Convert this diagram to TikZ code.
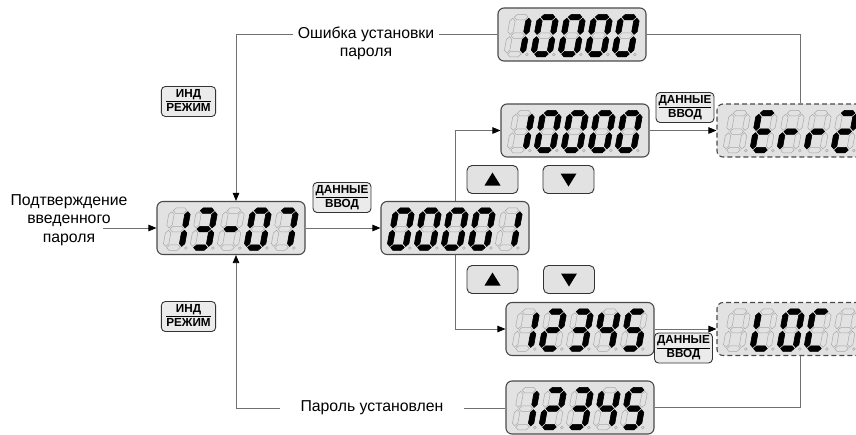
\documentclass[tikz,border=0pt]{standalone}
\usepackage{fontspec}
\setmainfont{Liberation Sans}
\usetikzlibrary{arrows.meta,calc}
\definecolor{lcdfill}{HTML}{E2E2E2}
\definecolor{lcdedge}{HTML}{4A4A4A}
\definecolor{segdim}{HTML}{A8A8A8}
\definecolor{linegray}{HTML}{707070}
\setlength{\arrayrulewidth}{1pt}

\newcommand\hseg[2]{\path[#1] (1.2,#2) -- (3.9,#2+2.7) -- (12.1,#2+2.7) -- (14.8,#2) -- (12.1,#2-2.7) -- (3.9,#2-2.7) -- cycle;}
\newcommand\vseg[3]{\path[#1] (#2,#3+1.2) -- (#2+2.7,#3+3.9) -- (#2+2.7,#3+14.6) -- (#2,#3+17.3) -- (#2-2.7,#3+14.6) -- (#2-2.7,#3+3.9) -- cycle;}
\newcommand\segXa[1]{\hseg{#1}{37}}
\newcommand\segXb[1]{\vseg{#1}{16}{18.5}}
\newcommand\segXc[1]{\vseg{#1}{16}{0}}
\newcommand\segXd[1]{\hseg{#1}{0}}
\newcommand\segXe[1]{\vseg{#1}{0}{0}}
\newcommand\segXf[1]{\vseg{#1}{0}{18.5}}
\newcommand\segXg[1]{\hseg{#1}{18.5}}
\newcommand\segXz[1]{}
\newcommand\lcddigit[3]{%
  \begin{scope}[shift={(#1.south west)}, shift={({9+27*#2},7.5)}, xslant=0.18]
    \foreach \s in {a,b,c,d,e,f,g}{\csname segX\s\endcsname{dimseg}}
    \path[dimseg] (20.5,-0.5) circle (1.4);
    \foreach \s in {#3}{\csname segX\s\endcsname{litseg}}
  \end{scope}}
\newcommand\lcdshow[6]{\lcddigit{#1}{0}{#2}\lcddigit{#1}{1}{#3}\lcddigit{#1}{2}{#4}\lcddigit{#1}{3}{#5}\lcddigit{#1}{4}{#6}}

\tikzset{
  lcd/.style={draw=lcdedge, line width=1.1pt, fill=lcdfill, rounded corners=6pt,
    minimum width=148pt, minimum height=53pt, inner sep=0pt},
  lcddash/.style={lcd, dash pattern=on 5pt off 3pt},
  dimseg/.style={draw=segdim, line width=0.5pt},
  litseg/.style={fill=black, draw=black, line width=0.6pt},
  conn/.style={draw=linegray, line width=0.8pt},
  arr/.style={conn, -{Triangle[length=8pt,width=6.5pt,color=black]}},
  btn/.style={draw=black!80, line width=0.9pt, fill=lcdfill!70, rounded corners=4pt,
    inner ysep=1.5pt, inner xsep=2.5pt, font=\bfseries\fontsize{11.7}{13}\selectfont},
  arrbtn/.style={draw=black!80, line width=0.9pt, fill=lcdfill, rounded corners=5pt,
    minimum width=51pt, minimum height=28pt, inner sep=0pt},
  lbl/.style={font=\fontsize{15.8}{18.5}\selectfont, align=center, inner sep=5pt}
}

\begin{document}
\begin{tikzpicture}[x=1pt,y=1pt]
\path[use as bounding box] (0,0) rectangle (856,-434);
\clip (0,0) rectangle (856,-434);

% displays
\node[lcd] (d1) at (231,-228) {};
\node[lcd] (d2) at (455,-228) {};
\node[lcd] (d3) at (572,-34.5) {};
\node[lcd] (d4) at (575,-130.5) {};
\node[lcddash] (d5) at (791,-130.5) {};
\node[lcd] (d6) at (580,-329) {};
\node[lcddash] (d7) at (791,-329) {};
\node[lcd] (d8) at (580,-407.5) {};

\lcdshow{d1}{b,c}{a,b,g,c,d}{g}{a,b,c,d,e,f}{a,b,c}
\lcdshow{d2}{a,b,c,d,e,f}{a,b,c,d,e,f}{a,b,c,d,e,f}{a,b,c,d,e,f}{b,c}
\lcdshow{d3}{b,c}{a,b,c,d,e,f}{a,b,c,d,e,f}{a,b,c,d,e,f}{a,b,c,d,e,f}
\lcdshow{d4}{b,c}{a,b,c,d,e,f}{a,b,c,d,e,f}{a,b,c,d,e,f}{a,b,c,d,e,f}
\lcdshow{d5}{z}{a,f,g,e,d}{e,g}{e,g}{a,b,g,e,d}
\lcdshow{d6}{b,c}{a,b,g,e,d}{a,b,g,c,d}{f,g,b,c}{a,f,g,c,d}
\lcdshow{d7}{z}{f,e,d}{a,b,c,d,e,f}{a,f,e,d}{z}
\lcdshow{d8}{b,c}{a,b,g,e,d}{a,b,g,c,d}{f,g,b,c}{a,f,g,c,d}

% labels
\node[lbl] (inp) at (69,-220) {Подтверждение\\введенного\\пароля};
\node[lbl] (errtxt) at (366,-43.5) {Ошибка установки\\пароля};
\node[lbl, inner xsep=20pt] (oktxt) at (372,-408) {Пароль установлен};
\coordinate (inpend) at (103,-228);

% buttons
\node[btn] (data1) at (342,-197.5) {\begin{tabular}{@{}c@{}}ДАННЫЕ\\\hline ВВОД\end{tabular}};
\node[btn] (data2) at (685,-107.5) {\begin{tabular}{@{}c@{}}ДАННЫЕ\\\hline ВВОД\end{tabular}};
\node[btn] (data3) at (683.5,-348) {\begin{tabular}{@{}c@{}}ДАННЫЕ\\\hline ВВОД\end{tabular}};
\node[btn, inner xsep=5pt] (ind1) at (188.5,-101.5) {\begin{tabular}{@{}c@{}}ИНД\\\hline РЕЖИМ\end{tabular}};
\node[btn, inner xsep=5pt] (ind2) at (188.5,-316.5) {\begin{tabular}{@{}c@{}}ИНД\\\hline РЕЖИМ\end{tabular}};
\node[arrbtn] (up1) at (492.5,-179.5) {};
\node[arrbtn] (down1) at (568.5,-179.5) {};
\node[arrbtn] (up2) at (492.5,-279.5) {};
\node[arrbtn] (down2) at (569,-279.5) {};
\fill ($(up1)+(-8,-6)$) -- ++(16,0) -- ++(-8,13) -- cycle;
\fill ($(up2)+(-8,-6)$) -- ++(16,0) -- ++(-8,13) -- cycle;
\fill ($(down1)+(-8,6)$) -- ++(16,0) -- ++(-8,-13) -- cycle;
\fill ($(down2)+(-8,6)$) -- ++(16,0) -- ++(-8,-13) -- cycle;

% connectors
\draw[arr] (inpend) -- (inpend -| d1.west);
\draw[arr] (d1.east) -- (d2.west);
\draw[arr] (d2.north) |- (d4.west);
\draw[arr] (d2.south) |- (d6.west);
\draw[arr] (d4.east) -- (d5.west);
\draw[arr] (d6.east) -- (d7.west);
\draw[arr] (errtxt.west |- d3) -| ($(d1.north)+(5,0)$);
\draw[conn] (errtxt.east |- d3) -- (d3.west);
\draw[conn] (d3.east) -| ($(d5.north)+(9,0)$);
\draw[arr] (oktxt.west) -| ($(d1.south)+(5,0)$);
\draw[conn] (oktxt.east) -- (d8.west |- oktxt);
\draw[conn] ($(d7.south)+(9,0)$) |- (d8.east);
\end{tikzpicture}
\end{document}
